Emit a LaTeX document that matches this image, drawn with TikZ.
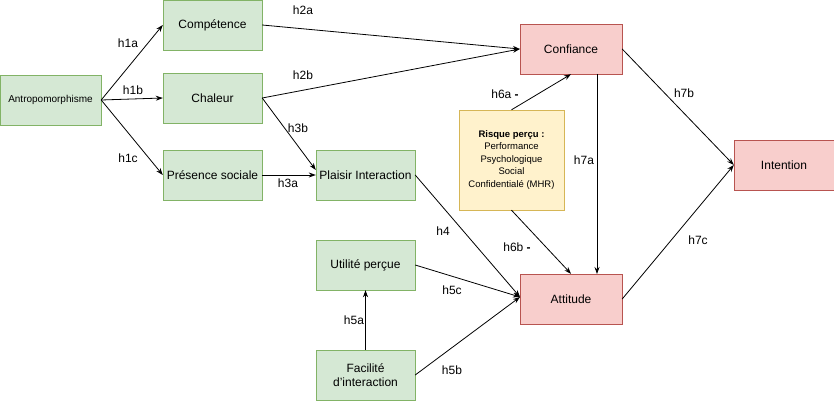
\documentclass[tikz,border=0pt]{standalone}
\usepackage{fontspec}
\setmainfont{Liberation Sans}
\usetikzlibrary{arrows.meta}
\definecolor{gf}{HTML}{D5E8D4}\definecolor{gd}{HTML}{82B366}
\definecolor{rf}{HTML}{F8CECC}\definecolor{rd}{HTML}{B85450}
\definecolor{yf}{HTML}{FFF2CC}\definecolor{yd}{HTML}{D6B656}
\begin{document}
\begin{tikzpicture}[x=1pt,y=-1pt,
 g/.style={draw=gd,fill=gf,minimum width=99pt,minimum height=50pt,font=\fontsize{12}{14}\selectfont,align=center,inner sep=1pt},
 r/.style={draw=rd,fill=rf,minimum width=102pt,minimum height=50pt,font=\fontsize{12}{14}\selectfont},
 a/.style={-{Stealth[length=7pt,width=5pt]},line width=0.8pt},
 l/.style={font=\fontsize{12}{14}\selectfont,inner sep=0pt}]
\useasboundingbox (0,0) rectangle (834,401);
\node[g,minimum width=101pt,font=\fontsize{10}{12}\selectfont] (ant) at (50.5,100) {Antropomorphisme};
\node[g] (comp) at (212.5,25) {Compétence};
\node[g] (chal) at (212.5,98) {Chaleur};
\node[g] (pres) at (212.5,175) {Présence sociale};
\node[g] (plai) at (365.5,175) {Plaisir Interaction};
\node[g] (util) at (365.5,265) {Utilité perçue};
\node[g] (faci) at (365.5,375) {Facilité\\d'interaction};
\node[r] (conf) at (571,49) {Confiance};
\node[r] (att) at (571,299) {Attitude};
\node[r,minimum width=100pt] (int) at (784,165) {Intention};
\node[draw=yd,fill=yf,minimum width=105pt,minimum height=100pt,align=center,font=\fontsize{9.5}{12.5}\selectfont] (risk) at (511.5,160) {\textbf{Risque perçu :}\\Performance\\Psychologique\\Social\\Confidentialé (MHR)};
\coordinate (attin) at (520,297);
\draw[a] (ant.east) -- (comp.west);
\draw[a] (ant.east) -- (chal.west);
\draw[a] (ant.east) -- (pres.west);
\draw[a] (comp.east) -- (conf.west);
\draw[a] (chal.east) -- (conf.west);
\draw[a] (chal.east) -- (plai.west|-0,170);
\draw[a] (pres.east) -- (plai.west);
\draw[a] (plai.east) -- (attin);
\draw[a] (util.east) -- (attin);
\draw[a] (faci.east) -- (attin);
\draw[a] (faci.north) -- (util.south);
\draw[a] (risk.north) -- (conf.south);
\draw[a] (risk.south) -- (att.north);
\draw[a] (597,74) -- (597,274);
\draw[a] (conf.east) -- (int.west);
\draw[a] (att.east) -- (int.west);
\node[l] (t1) at (128,43) {h1a};
\node[l] (t2) at (133,90) {h1b};
\node[l] (t3) at (128,158) {h1c};
\node[l] (t4) at (303,10) {h2a};
\node[l] (t5) at (303,75) {h2b};
\node[l] (t6) at (298,128) {h3b};
\node[l] (t7) at (288,183) {h3a};
\node[l] (t8) at (443,231) {h4};
\node[l] (t9) at (452,290) {h5c};
\node[l] (t10) at (452,370) {h5b};
\node[l] (t11) at (354,320) {h5a};
\node[l] (t12) at (505,94) {h6a \textbf{-}};
\node[l] (t13) at (517,247) {h6b \textbf{-}};
\node[l] (t14) at (584,160) {h7a};
\node[l] (t15) at (684,93) {h7b};
\node[l] (t16) at (698,240) {h7c};
\end{tikzpicture}
\end{document}
